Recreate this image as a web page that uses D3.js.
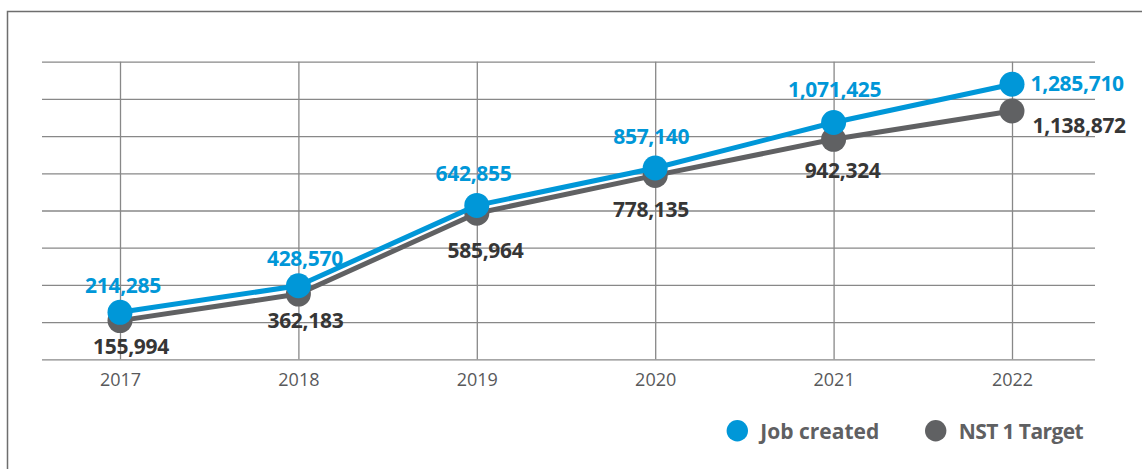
<!DOCTYPE html>
<html><head><meta charset="utf-8">
<script src="https://cdn.jsdelivr.net/npm/d3@7"></script>
<style>html,body{margin:0;padding:0;background:#fff;overflow:hidden}</style>
</head><body>
<svg id="chart" width="1142" height="469"></svg>
<script>
// ---- data ----
const years = ["2017", "2018", "2019", "2020", "2021", "2022"];
// plotted positions (chart's own y scale)
const jobCreated = [221000, 346000, 724000, 900000, 1114000, 1294000];
const nstTarget  = [182000, 307000, 687000, 865000, 1035000, 1168000];
// printed data labels
const jobCreatedLabels = ["214,285", "428,570", "642,855", "857,140", "1,071,425", "1,285,710"];
const nstTargetLabels  = ["155,994", "362,183", "585,964", "778,135", "942,324", "1,138,872"];
const yTicks = [0, 175000, 350000, 525000, 700000, 875000, 1050000, 1225000, 1400000];
const seriesNames = ["Job created", "NST 1 Target"];

// ---- layout ----
const BLUE = "#0097d8", GREY = "#606163", GRID = "#888888";
const FONT = "'Open Sans', 'DejaVu Sans', sans-serif";
const blueOff = [[3,-19.6],[6.5,-19.7],[-3.3,-24.6],[-4,-24.4],[1,-25.6],[18.5,7]];
const greyOff = [[11,33.6],[7,34.3],[8.7,44.4],[-4.2,42],[9,39],[20.5,21.7]];
const legX = [737.3, 935.7];
const legSpacing = [0, -0.6];

const svg = d3.select("#chart");
svg.append("rect").attr("x",7.5).attr("y",11.5).attr("width",1300).attr("height",800)
  .attr("fill","none").attr("stroke","#6e6e6e").attr("stroke-width",1.5);

const x = d3.scalePoint().domain(years).range([120, 1012]);
const y = d3.scaleLinear().domain([0, 1400000]).range([359.3, 61.7]);

// horizontal grid
const gy = svg.append("g").attr("transform","translate(1095,0)")
  .call(d3.axisLeft(y).tickValues(yTicks).tickSize(1095-42).tickFormat(""));
gy.select(".domain").remove();
gy.selectAll("line").attr("stroke",GRID).attr("stroke-width",1.3);

// vertical grid + year labels
const gx = svg.append("g").attr("transform",`translate(0,${y(0)})`)
  .call(d3.axisBottom(x).tickSize(-(y(0)-y(1400000))).tickSizeOuter(0));
gx.select(".domain").remove();
gx.selectAll("line").attr("stroke",GRID).attr("stroke-width",1.3);
gx.selectAll("text").attr("y",26.8).attr("dy",0).attr("fill","#58595b")
  .style("font-family",FONT).style("font-size","18px");

const line = d3.line().x((d,i)=>x(years[i])).y(d=>y(d));

function drawSeries(vals, color) {
  svg.append("path").datum(vals).attr("d",line).attr("fill","none")
    .attr("stroke",color).attr("stroke-width",5).attr("stroke-linejoin","round");
  svg.append("g").selectAll("circle").data(vals).join("circle")
    .attr("cx",(d,i)=>x(years[i])).attr("cy",d=>y(d)).attr("r",12.5).attr("fill",color);
}
drawSeries(nstTarget, GREY);
drawSeries(jobCreated, BLUE);

function drawLabels(vals, labels, offs, color) {
  svg.append("g").selectAll("text").data(vals).join("text")
    .attr("x",(d,i)=>x(years[i])+offs[i][0]).attr("y",(d,i)=>y(d)+offs[i][1])
    .attr("text-anchor",(d,i)=>i===vals.length-1?"start":"middle")
    .attr("fill",color).style("font-family",FONT).style("font-weight",700).style("font-size","21px")
    .style("letter-spacing","-0.3px")
    .text((d,i)=>labels[i]);
}
drawLabels(jobCreated, jobCreatedLabels, blueOff, BLUE);
drawLabels(nstTarget, nstTargetLabels, greyOff, "#363636");

// legend
const leg = svg.append("g").selectAll("g").data(seriesNames).join("g")
  .attr("transform",(d,i)=>`translate(${legX[i]},430.7)`);
leg.append("circle").attr("r",10.7).attr("fill",(d,i)=>i===0?BLUE:GREY);
leg.append("text").attr("x",23).attr("y",8).attr("fill","#5f6062")
  .style("font-family",FONT).style("font-weight",700).style("font-size","21px")
  .style("letter-spacing",(d,i)=>legSpacing[i]+"px").text(d=>d);
</script>
</body></html>
